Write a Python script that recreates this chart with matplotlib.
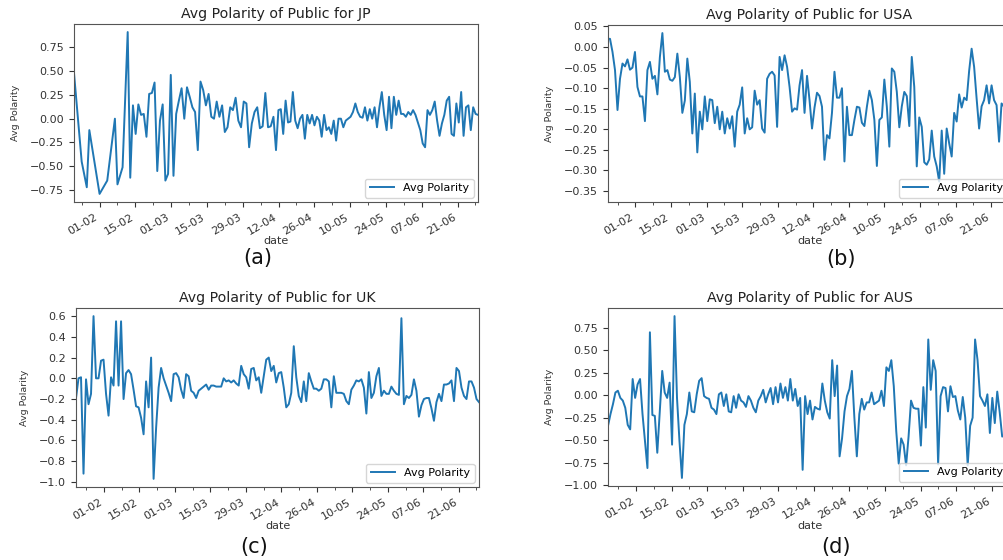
"""Average tweet polarity per country, Jan-Jun, four small panels (a)-(d)."""
import pandas as pd
import matplotlib
matplotlib.use("Agg")
import matplotlib.pyplot as plt
import matplotlib.dates as mdates
from matplotlib.ticker import MultipleLocator, FixedLocator

# ---- data --------------------------------------------------------------
# JP has only a few days in late Jan / early Feb, then roughly daily values
JP_EARLY_DATES = ["2021-01-22", "2021-01-25", "2021-01-27", "2021-01-28",
                  "2021-02-01", "2021-02-04", "2021-02-07", "2021-02-08",
                  "2021-02-10", "2021-02-12"]
JP_EARLY = [0.48, -0.45, -0.72, -0.12, -0.79, -0.65, 0.00, -0.69, -0.51, 0.91]

# 2021-02-13 .. 2021-04-10
JP_FEB_APR = [-0.62, 0.14, -0.16, 0.15, 0.04, 0.05, -0.19, 0.26, 0.27, 0.38,
              -0.55, -0.02, 0.15, -0.65, -0.58, 0.46, -0.60, 0.05, 0.19, 0.32,
              0.00, 0.33, 0.23, 0.12, 0.07, -0.33, 0.39, 0.30, 0.14, 0.26,
              0.02, 0.00, 0.18, 0.02, 0.14, -0.14, -0.09, 0.12, 0.09, 0.22,
              -0.02, -0.09, 0.18, 0.16, -0.30, -0.05, 0.07, 0.12, -0.10, -0.08,
              0.27, -0.09, -0.08, 0.02]

# 2021-04-11 .. 2021-06-29
JP_APR_JUN = [-0.33, 0.09, 0.10, -0.16, 0.19, -0.04, -0.03, 0.28, -0.02, -0.10,
              0.00, 0.04, -0.21, 0.04, -0.05, 0.04, -0.07, 0.02, -0.02, -0.19,
              0.04, -0.12, -0.09, -0.16, -0.02, -0.23, 0.00, 0.00, -0.09, -0.02,
              0.00, 0.02, 0.07, 0.16, 0.07, 0.02, 0.01, 0.12, -0.02, 0.10,
              0.00, 0.12, -0.09, 0.12, 0.28, 0.04, -0.12, 0.23, -0.10, 0.23,
              0.04, 0.19, 0.05, 0.05, 0.02, 0.07, 0.04, 0.09, 0.04, -0.04,
              -0.12, -0.26, -0.30, 0.09, 0.04, 0.09, 0.18, -0.02, -0.18, -0.05,
              0.04, 0.19, 0.23, -0.16, -0.18, 0.16, -0.04, 0.28, -0.18, 0.12,
              0.14, -0.12, 0.12, 0.05, 0.04]

# daily, 2021-01-21 .. 2021-06-29
USA = [0.020, 0.020, -0.012, -0.056, -0.153, -0.077, -0.040, -0.047, -0.030, -0.055,
       -0.050, -0.012, -0.097, -0.120, -0.120, -0.180, -0.056, -0.036, -0.077, -0.070,
       -0.115, -0.024, 0.034, -0.060, -0.056, -0.079, -0.082, -0.073, -0.016, -0.073,
       -0.160, -0.130, -0.028, -0.085, -0.210, -0.113, -0.256, -0.157, -0.200, -0.120,
       -0.180, -0.127, -0.129, -0.185, -0.145, -0.200, -0.157, -0.210, -0.173, -0.198,
       -0.168, -0.242, -0.157, -0.140, -0.098, -0.210, -0.173, -0.200, -0.195, -0.106,
       -0.140, -0.129, -0.198, -0.208, -0.077, -0.065, -0.060, -0.069, -0.194, -0.024,
       -0.056, -0.020, -0.048, -0.097, -0.157, -0.149, -0.152, -0.093, -0.056, -0.160,
       -0.070, -0.129, -0.198, -0.147, -0.111, -0.119, -0.145, -0.274, -0.214, -0.222,
       -0.160, -0.060, -0.123, -0.123, -0.100, -0.278, -0.145, -0.214, -0.214, -0.177,
       -0.145, -0.147, -0.184, -0.192, -0.145, -0.106, -0.129, -0.177, -0.289, -0.177,
       -0.171, -0.079, -0.145, -0.242, -0.052, -0.060, -0.109, -0.195, -0.144, -0.109,
       -0.119, -0.192, -0.024, -0.097, -0.290, -0.171, -0.194, -0.280, -0.286, -0.273,
       -0.203, -0.266, -0.290, -0.327, -0.203, -0.308, -0.198, -0.234, -0.266, -0.160,
       -0.181, -0.115, -0.147, -0.123, -0.129, -0.058, -0.004, -0.048, -0.125, -0.198,
       -0.144, -0.129, -0.093, -0.137, -0.093, -0.129, -0.141, -0.230, -0.137, -0.145,
       -0.235, -0.357, -0.160]

UK = [-0.19, 0.00, 0.01, -0.92, -0.01, -0.25, -0.15, 0.60, 0.00, 0.00,
      0.17, 0.18, -0.15, -0.36, 0.01, -0.07, 0.55, -0.07, 0.55, -0.20,
      0.05, 0.08, 0.04, -0.11, -0.27, -0.28, -0.38, -0.54, -0.03, -0.28,
      0.20, -0.97, -0.48, -0.09, 0.10, 0.00, -0.07, -0.14, -0.22, 0.04,
      0.05, 0.01, -0.11, -0.19, 0.04, 0.02, -0.12, -0.14, -0.19, -0.12,
      -0.10, -0.08, -0.06, -0.11, -0.07, -0.07, -0.08, -0.08, -0.08, 0.00,
      -0.03, -0.02, -0.04, -0.02, -0.05, -0.07, 0.12, 0.04, 0.01, -0.10,
      0.09, 0.10, -0.02, 0.01, -0.14, 0.02, 0.18, 0.20, 0.07, 0.12,
      -0.04, 0.05, 0.06, -0.09, -0.28, -0.25, -0.14, 0.31, 0.01, -0.17,
      -0.23, -0.03, -0.22, 0.05, -0.03, -0.10, -0.10, -0.12, -0.10, -0.01,
      -0.01, -0.03, -0.28, 0.02, -0.14, -0.14, -0.14, -0.15, -0.22, -0.25,
      -0.11, -0.07, -0.02, -0.03, -0.01, -0.09, -0.34, 0.06, -0.19, -0.14,
      0.02, 0.10, -0.17, -0.12, -0.15, -0.15, -0.08, -0.12, -0.15, -0.16,
      0.58, -0.25, -0.17, -0.19, -0.16, -0.01, -0.12, -0.37, -0.26, -0.20,
      -0.19, -0.19, -0.29, -0.41, -0.23, -0.15, -0.22, -0.06, -0.06, -0.05,
      -0.02, -0.22, 0.10, 0.07, -0.09, -0.17, -0.20, -0.03, -0.03, -0.09,
      -0.20, -0.23]

AUS = [-0.34, -0.21, -0.10, 0.03, 0.05, -0.03, -0.06, -0.14, -0.33, -0.38,
       0.18, -0.03, 0.12, 0.18, -0.21, -0.51, -0.81, 0.70, -0.22, -0.23,
       -0.64, -0.18, 0.27, 0.03, -0.03, 0.14, -0.55, 0.88, -0.03, -0.51,
       -0.92, -0.33, -0.21, 0.03, -0.18, -0.19, 0.01, 0.16, 0.19, -0.01,
       -0.03, -0.04, -0.14, -0.16, -0.21, 0.01, 0.03, -0.12, 0.01, -0.18,
       -0.19, -0.01, -0.14, 0.01, -0.06, -0.08, -0.13, -0.01, -0.06, -0.14,
       -0.19, -0.06, -0.01, 0.06, -0.08, 0.01, 0.08, -0.10, 0.09, -0.08,
       0.13, -0.03, 0.09, -0.06, 0.18, -0.06, 0.07, -0.12, -0.03, -0.83,
       -0.01, -0.21, -0.06, -0.27, -0.13, -0.15, -0.16, 0.13, -0.06, -0.19,
       -0.26, 0.39, -0.01, 0.33, -0.68, -0.48, -0.18, -0.01, 0.07, 0.27,
       -0.25, -0.68, -0.21, -0.04, -0.16, -0.08, -0.08, 0.03, -0.10, -0.08,
       -0.06, 0.05, -0.12, 0.31, 0.27, 0.39, 0.10, -0.40, -0.76, -0.48,
       -0.55, -0.78, -0.46, -0.06, -0.14, -0.15, -0.15, -0.56, 0.09, -0.36,
       0.62, 0.06, 0.39, 0.27, -0.77, -0.01, 0.09, 0.08, -0.18, 0.10,
       -0.02, -0.01, -0.17, -0.27, -0.02, -0.25, -0.78, -0.34, -0.25, 0.62,
       0.39, -0.01, -0.06, -0.12, 0.01, -0.42, -0.03, -0.31, 0.04, -0.19,
       -0.46, -0.44, 0.72, 0.10, -0.20]

COUNTRIES = ["JP", "USA", "UK", "AUS"]
CAPTIONS = ["(a)", "(b)", "(c)", "(d)"]
TICK_FMT = "%d-%m"

LINE_COLOR = "#1f77b4"
plt.rcParams["font.family"] = ["DejaVu Sans"]


def spread(values, start, end):
    """Daily-ish dates for a run of values between start and end."""
    return pd.date_range(start, end, periods=len(values))


def build_series():
    jp_dates = (list(pd.to_datetime(JP_EARLY_DATES))
                + list(spread(JP_FEB_APR, "2021-02-13", "2021-04-10"))
                + list(spread(JP_APR_JUN, "2021-04-11", "2021-06-29")))
    jp_vals = JP_EARLY + JP_FEB_APR + JP_APR_JUN
    return {
        "JP": (jp_dates, jp_vals),
        "USA": (list(spread(USA, "2021-01-21", "2021-06-29")), USA),
        "UK": (list(spread(UK, "2021-01-21", "2021-06-29")), UK),
        "AUS": (list(spread(AUS, "2021-01-21", "2021-06-29")), AUS),
    }


def draw_panel(ax, dates, values, country, ystep):
    ax.plot(dates, values, color=LINE_COLOR, linewidth=1.4, label="Avg Polarity")
    ax.set_xlim(dates[0], dates[-1])
    ax.margins(y=0.05)

    major = pd.date_range("2021-02-01", periods=11, freq="14D")
    minor = pd.date_range("2021-01-25", "2021-06-28", freq="7D")
    ax.xaxis.set_major_locator(FixedLocator(mdates.date2num(major)))
    ax.xaxis.set_minor_locator(FixedLocator(mdates.date2num(minor)))
    ax.xaxis.set_major_formatter(mdates.DateFormatter(TICK_FMT))
    ax.yaxis.set_major_locator(MultipleLocator(ystep))

    ax.tick_params(axis="both", which="major", labelsize=8, length=3.5,
                   colors="#333333")
    ax.tick_params(axis="x", which="minor", length=2, colors="#333333")
    for lbl in ax.get_xticklabels():
        lbl.set_rotation(30)
        lbl.set_ha("right")
    for sp in ax.spines.values():
        sp.set_color("#555555")

    ax.set_title(f"Avg Polarity of Public for {country}", fontsize=10.2,
                 color="#222222", pad=4)
    ax.set_xlabel("date", fontsize=8, color="#333333", labelpad=0)
    ax.set_ylabel("Avg Polarity", fontsize=6.8, color="#333333", labelpad=7)
    ax.legend(loc="lower right", fontsize=8, handlelength=2.2,
              borderaxespad=0.4, framealpha=0.8)


def main():
    series = build_series()
    fig = plt.figure(figsize=(10.04, 5.60), dpi=100)

    # axes boxes in figure fractions; the right column runs past the edge
    boxes = {
        "JP": [0.0737, 0.6393, 0.4024, 0.3179],
        "USA": [0.6051, 0.6393, 0.4024, 0.3160],
        "UK": [0.0757, 0.1304, 0.4014, 0.3196],
        "AUS": [0.6056, 0.1321, 0.4024, 0.3179],
    }
    ysteps = {"JP": 0.25, "USA": 0.05, "UK": 0.2, "AUS": 0.25}
    caption_xy = {"JP": (0.257, 0.539), "USA": (0.8376, 0.5375),
                  "UK": (0.253, 0.0232), "AUS": (0.8327, 0.0232)}

    for country, cap in zip(COUNTRIES, CAPTIONS):
        ax = fig.add_axes(boxes[country])
        dates, vals = series[country]
        draw_panel(ax, dates, vals, country, ysteps[country])
        cx, cy = caption_xy[country]
        fig.text(cx, cy, cap, fontsize=15, ha="center", va="center",
                 color="#111111")

    fig.savefig("out.png", dpi=100)
    plt.close(fig)


if __name__ == "__main__":
    main()
